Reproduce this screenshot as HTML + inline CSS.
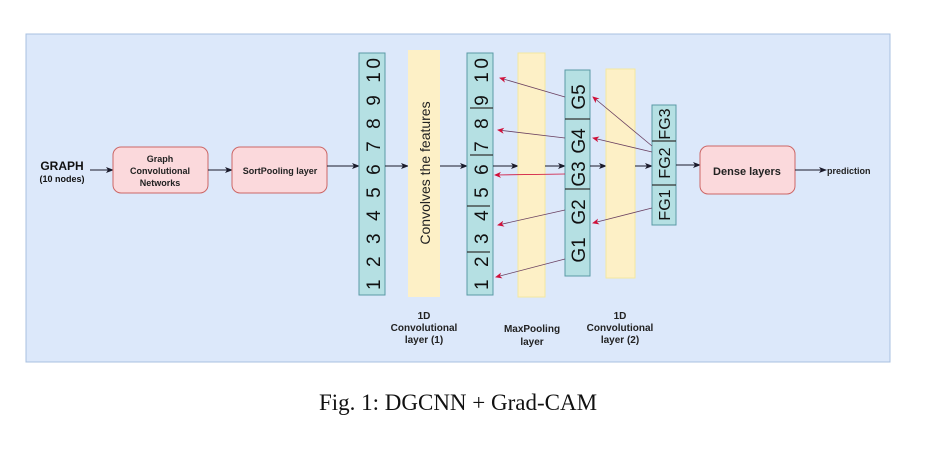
<!DOCTYPE html>
<html><head><meta charset="utf-8"><style>
body{margin:0;background:#fff;}
svg{display:block;}
</style></head><body>
<svg width="927" height="473" viewBox="0 0 927 473" xmlns="http://www.w3.org/2000/svg" font-family="Liberation Sans, sans-serif">
<defs>
<marker id="a" markerWidth="8" markerHeight="8" refX="7" refY="4" orient="auto" markerUnits="userSpaceOnUse"><path d="M0,1 L8,4 L0,7 L2,4z" fill="#1a1a2a"/></marker>
<marker id="r" markerWidth="7" markerHeight="7" refX="6" refY="3.5" orient="auto" markerUnits="userSpaceOnUse"><path d="M0,0.5 L7,3.5 L0,6.5 L2,3.5z" fill="#d0103a"/></marker>
</defs>
<rect x="26" y="34" width="864" height="328" fill="#dce8fa" stroke="#a8c0e0" stroke-width="1"/>
<text x="62" y="170" font-size="12" font-weight="bold" text-anchor="middle" fill="#111">GRAPH</text>
<text x="62" y="182" font-size="9" font-weight="bold" text-anchor="middle" fill="#111">(10 nodes)</text>
<line x1="90" y1="170" x2="113" y2="170" stroke="#1a1a2a" marker-end="url(#a)"/>
<rect x="113" y="147" width="95" height="46" rx="8" fill="#fbd9dc" stroke="#c66" stroke-width="1"/>
<text font-size="9" font-weight="bold" text-anchor="middle" fill="#222"><tspan x="160" y="162">Graph</tspan><tspan x="160" y="174">Convolutional</tspan><tspan x="160" y="186">Networks</tspan></text>
<line x1="208" y1="170" x2="232" y2="170" stroke="#1a1a2a" marker-end="url(#a)"/>
<rect x="232" y="147" width="95" height="46" rx="8" fill="#fbd9dc" stroke="#c66" stroke-width="1"/>
<text x="280" y="174" font-size="9" font-weight="bold" text-anchor="middle" fill="#222">SortPooling layer</text>
<line x1="327" y1="166" x2="359" y2="166" stroke="#1a1a2a" marker-end="url(#a)"/>
<rect x="359" y="53" width="26" height="242" fill="#b5e0e3" stroke="#5a9aa5"/>
<text transform="translate(380,174) rotate(-90)" font-size="19" text-anchor="middle" textLength="232" lengthAdjust="spacing" fill="#111">1 2 3 4 5 6 7 8 9 10</text>
<line x1="385" y1="166" x2="408" y2="166" stroke="#1a1a2a" marker-end="url(#a)"/>
<rect x="408" y="50" width="32" height="247" fill="#fdf0c6"/>
<text transform="translate(430,173) rotate(-90)" font-size="14" text-anchor="middle" fill="#222">Convolves the features</text>
<line x1="440" y1="166" x2="467" y2="166" stroke="#1a1a2a" marker-end="url(#a)"/>
<rect x="467" y="53" width="26" height="242" fill="#b5e0e3" stroke="#5a9aa5"/>
<g stroke="#333" stroke-width="1.3"><line x1="470" y1="108" x2="493" y2="108"/><line x1="470" y1="155" x2="493" y2="155"/><line x1="467" y1="206" x2="490" y2="206"/><line x1="467" y1="252" x2="490" y2="252"/></g>
<text transform="translate(488,174) rotate(-90)" font-size="19" text-anchor="middle" textLength="232" lengthAdjust="spacing" fill="#111">1 2 3 4 5 6 7 8 9 10</text>
<line x1="493" y1="166" x2="518" y2="166" stroke="#1a1a2a" marker-end="url(#a)"/>
<rect x="518" y="53" width="27" height="244" fill="#fdf0c6" stroke="#f3e7a0"/>
<line x1="545" y1="166" x2="565" y2="166" stroke="#1a1a2a" marker-end="url(#a)"/>
<rect x="565" y="70" width="25" height="206" fill="#b5e0e3" stroke="#5a9aa5"/>
<g stroke="#333" stroke-width="1.3"><line x1="565" y1="119" x2="590" y2="119"/><line x1="565" y1="189" x2="590" y2="189"/></g>
<g font-size="19" fill="#111" text-anchor="middle">
<text transform="translate(585,97) rotate(-90)">G5</text>
<text transform="translate(585,141) rotate(-90)">G4</text>
<text transform="translate(585,174) rotate(-90)">G3</text>
<text transform="translate(585,212) rotate(-90)">G2</text>
<text transform="translate(585,250) rotate(-90)">G1</text>
</g>
<line x1="590" y1="166" x2="606" y2="166" stroke="#1a1a2a" marker-end="url(#a)"/>
<rect x="606" y="69" width="29" height="209" fill="#fdf0c6" stroke="#f3e7a0"/>
<line x1="635" y1="166" x2="652" y2="166" stroke="#1a1a2a" marker-end="url(#a)"/>
<rect x="652" y="105" width="24" height="120" fill="#b5e0e3" stroke="#5a9aa5"/>
<g stroke="#333" stroke-width="1.3"><line x1="652" y1="141" x2="676" y2="141"/><line x1="652" y1="185" x2="676" y2="185"/></g>
<g font-size="16" fill="#111" text-anchor="middle">
<text transform="translate(670,124) rotate(-90)">FG3</text>
<text transform="translate(670,163) rotate(-90)">FG2</text>
<text transform="translate(670,205) rotate(-90)">FG1</text>
</g>
<line x1="676" y1="165" x2="700" y2="165" stroke="#1a1a2a" marker-end="url(#a)"/>
<rect x="700" y="146" width="95" height="48" rx="8" fill="#fbd9dc" stroke="#c66"/>
<text x="747" y="175" font-size="11" font-weight="bold" text-anchor="middle" fill="#222">Dense layers</text>
<line x1="795" y1="170" x2="826" y2="170" stroke="#1a1a2a" marker-end="url(#a)"/>
<text x="827" y="174" font-size="9" font-weight="bold" fill="#222">prediction</text>
<g stroke="#6a4060" stroke-width="0.8" fill="none" marker-end="url(#r)">
<line x1="565" y1="97" x2="500" y2="78"/>
<line x1="565" y1="138" x2="498" y2="130"/>
<line x1="565" y1="174" x2="495" y2="175" stroke="#d0103a"/>
<line x1="565" y1="210" x2="498" y2="225"/>
<line x1="565" y1="259" x2="496" y2="277"/>
<line x1="652" y1="146" x2="593" y2="97"/>
<line x1="652" y1="152" x2="593" y2="138"/>
<line x1="652" y1="208" x2="593" y2="223"/>
</g>
<g font-size="10" font-weight="bold" text-anchor="middle" fill="#222">
<text x="424" y="319">1D</text><text x="424" y="331">Convolutional</text><text x="424" y="343">layer (1)</text>
<text x="532" y="332">MaxPooling</text><text x="532" y="345">layer</text>
<text x="620" y="319">1D</text><text x="620" y="331">Convolutional</text><text x="620" y="343">layer (2)</text>
</g>
<text x="458" y="410" font-family="Liberation Serif, serif" font-size="23" text-anchor="middle" fill="#111">Fig. 1: DGCNN + Grad-CAM</text>
</svg>
</body></html>
